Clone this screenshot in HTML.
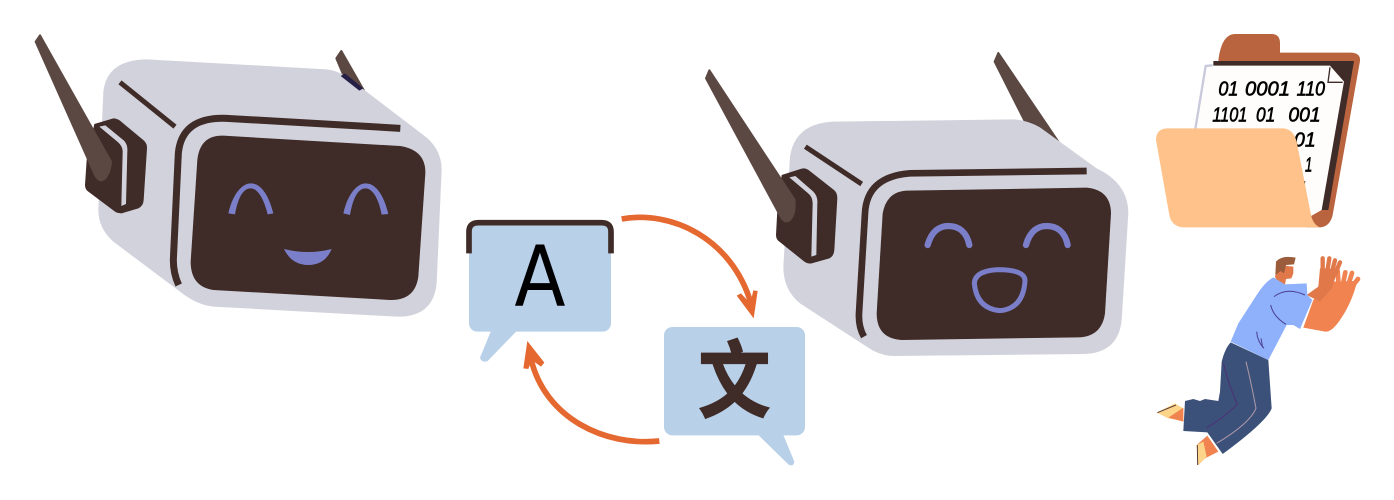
<!DOCTYPE html>
<html><head><meta charset="utf-8"><style>html,body{margin:0;padding:0;background:#fff}svg{display:block}</style></head><body>
<svg width="1394" height="500" viewBox="0 0 1394 500" xmlns="http://www.w3.org/2000/svg">
<rect width="1394" height="500" fill="#fff"/>
<!-- left robot -->
<g transform="translate(0,20) scale(.33333)">
<path d="M1024,93 L1009,115 L1030,165 L1092,212 Z" fill="#5c4842" stroke="#5c4842" stroke-width="6" stroke-linejoin="round"/>
<path d="M440,118 L980,148 Q1020,152 1060,185 L1270,345 Q1325,385 1325,450 L1310,790 Q1300,892 1190,890 L640,860 Q590,855 540,815 L340,665 Q295,625 295,570 L310,215 Q320,120 440,118 Z" fill="#d2d2dc"/>
<path d="M1022,168 L1035,160 L1090,205 L1078,212 Z" fill="#272046"/>
<path d="M360,187 L525,320" stroke="#3f2b27" stroke-width="15" fill="none"/>
<path d="M1201,325 L680,295 Q545,290 535,400 L520,720 Q520,760 536,795" stroke="#3f2b27" stroke-width="21" fill="none"/>
<path d="M670,347 L1200,378 Q1278,390 1276,460 L1255,770 Q1245,842 1170,840 L640,810 Q572,800 572,725 L592,420 Q600,345 670,347 Z" fill="#3f2b27"/>
<path d="M283,312 L340,295 Q350,295 360,302 L432,362 Q442,372 441,385 L431,540 Q430,558 415,565 L365,580 Q352,580 345,575 L265,515 Q255,508 255,495 L260,420 Z" fill="#3f2b27"/>
<path d="M298,320 L316,316 L372,362 Q384,375 382,395 L378,552 L364,558 L368,395 Q368,378 352,365 Z" fill="#d2d2dc"/>
<path d="M120,46 L107,65 L285,465 Q298,488 312,478 Q330,462 333,425 Z" fill="#5c4842" stroke="#5c4842" stroke-width="6" stroke-linejoin="round"/>
<path d="M685,580 C700,515 730,490 752,490 C780,490 805,520 820,580 L803,583 C790,530 770,505 752,505 C730,505 715,530 705,583 Z" fill="#7b7fc9"/>
<path d="M1030,580 C1045,515 1075,490 1097,490 C1125,490 1150,520 1165,582 L1145,584 C1135,530 1115,505 1097,505 C1075,505 1060,530 1050,585 Z" fill="#7b7fc9"/>
<path d="M852,687 Q925,705 995,687 Q975,735 925,735 Q875,735 852,687 Z" fill="#7b7fc9"/>
</g>
<!-- right robot -->
<g transform="translate(690,40) scale(.33333)">
<path d="M925,39 L914,65 L1005,245 L1105,305 Z" fill="#5c4842" stroke="#5c4842" stroke-width="6" stroke-linejoin="round"/>
<path d="M430,245 L970,238 Q1010,240 1050,262 L1220,385 Q1315,430 1315,520 L1295,840 Q1285,940 1180,942 L610,948 Q570,948 530,920 L330,790 Q280,750 280,680 L300,350 Q315,250 430,245 Z" fill="#d2d2dc"/>
<path d="M346,320 L515,432" stroke="#3f2b27" stroke-width="15" fill="none"/>
<path d="M1190,393 L660,400 Q530,410 525,520 L507,820 Q505,860 522,890" stroke="#3f2b27" stroke-width="20" fill="none"/>
<path d="M650,452 L1190,443 Q1262,450 1263,520 L1245,820 Q1235,890 1165,892 L635,900 Q560,895 560,820 L578,520 Q590,455 650,452 Z" fill="#3f2b27"/>
<path d="M275,405 L335,386 Q347,383 358,392 L432,450 Q442,458 442,475 L433,630 Q432,648 418,655 L365,670 Q352,672 342,664 L268,605 Q258,598 258,585 L262,510 Z" fill="#3f2b27"/>
<path d="M298,412 L316,408 L370,455 Q384,470 382,490 L379,645 L364,650 L368,490 Q368,470 352,458 Z" fill="#d2d2dc"/>
<path d="M58,91 L48,115 L272,530 Q285,552 300,540 Q318,520 313,478 Z" fill="#5c4842" stroke="#5c4842" stroke-width="6" stroke-linejoin="round"/>
<path d="M713,615 C725,572 750,558 775,558 C805,558 830,575 838,615" stroke="#7b7fc9" stroke-width="19" stroke-linecap="round" fill="none"/>
<path d="M1008,615 C1020,572 1045,558 1070,558 C1100,558 1125,575 1133,615" stroke="#7b7fc9" stroke-width="19" stroke-linecap="round" fill="none"/>
<path d="M930,689 Q1005,691 1005,722 Q1000,805 930,812 Q860,805 853,730 Q855,691 930,689 Z" stroke="#7b7fc9" stroke-width="15" fill="none"/>
</g>
<!-- bubbles -->
<g transform="translate(455,205) scale(.33333)">
<rect x="42" y="60" width="426" height="320" rx="25" fill="#b8d0e8"/>
<path d="M108,378 L75,458 Q80,475 98,468 L185,378 Z" fill="#b8d0e8"/>
<path d="M42,145 L42,80 Q42,53 70,53 L440,53 Q468,53 468,80 L468,145" stroke="#3f2b27" stroke-width="17" fill="none"/>
<text transform="translate(255,302) scale(.89,1)" font-family="'DejaVu Sans',sans-serif" font-size="252" text-anchor="middle" fill="#000">A</text>
<rect x="627" y="366" width="423" height="325" rx="25" fill="#b8d0e8"/>
<path d="M910,690 L1000,778 Q1015,788 1018,770 L985,690 Z" fill="#b8d0e8"/>
<text transform="translate(838,617) scale(.86,1)" font-family="'Noto Sans CJK SC',sans-serif" font-weight="700" font-size="250" text-anchor="middle" fill="#3f2b27" stroke="#3f2b27" stroke-width="5">文</text>
<path d="M500,42 C650,15 830,100 888,295" stroke="#e4682f" stroke-width="17" fill="none"/>
<path d="M896,340 L845,272 L858,265 L886,295 L895,256 L908,258 Z" fill="#e4682f"/>
<path d="M613,708 C450,725 270,640 228,462" stroke="#e4682f" stroke-width="17" fill="none"/>
<path d="M217,408 L205,490 L220,492 L230,465 L258,485 L268,473 Z" fill="#e4682f"/>
</g>
<!-- folder -->
<g transform="translate(1150,25) scale(.33333)">
<path d="M205,105 Q215,27 255,27 L365,27 Q390,27 390,55 L390,83 L605,83 Q632,85 630,108 L548,570 Q540,605 510,607 L470,607 L300,300 Z" fill="#b9643e"/>
<path d="M190,108 L612,108 L535,555 L510,555 L500,300 L190,122 Z" fill="#3f2b27"/>
<path d="M170,122 L540,122 L582,170 L515,555 L480,575 L135,315 Z" fill="#fefdfb"/>
<path d="M188,121 L167,123 L136,312" stroke="#c9c9dc" stroke-width="7" fill="none"/>
<path d="M540,127 L534,172 L578,172" stroke="#3f2b27" stroke-width="4" fill="none"/>
<g font-family="'Liberation Sans',sans-serif" font-style="italic" font-weight="400" font-size="62" fill="#000" stroke="#000" stroke-width="2">
<text x="205" y="212" textLength="60" lengthAdjust="spacingAndGlyphs">01</text>
<text x="285" y="212" textLength="135" lengthAdjust="spacingAndGlyphs">0001</text>
<text x="440" y="212" textLength="85" lengthAdjust="spacingAndGlyphs">110</text>
<text x="187" y="290" textLength="105" lengthAdjust="spacingAndGlyphs">1101</text>
<text x="318" y="290" textLength="58" lengthAdjust="spacingAndGlyphs">01</text>
<text x="415" y="290" textLength="97" lengthAdjust="spacingAndGlyphs">001</text>
<text x="432" y="365" textLength="65" lengthAdjust="spacingAndGlyphs">01</text>
<text x="465" y="440" textLength="22" lengthAdjust="spacingAndGlyphs">1</text>
<text x="442" y="512" textLength="30" lengthAdjust="spacingAndGlyphs">1</text>
</g>
<path d="M50,310 L400,310 Q430,312 440,350 L483,570 Q490,600 510,607 L100,607 Q65,605 58,570 L18,345 Q18,312 50,310 Z" fill="#fec28a"/>
</g>
<!-- person -->
<g transform="translate(1150,245) scale(.33333)">
<path d="M460,248 L490,165 L545,110 L622,108 Q605,175 570,225 Q545,262 525,260 Z" fill="#f08350"/>
<path d="M565,108 L563,78 M580,112 L586,82 M596,116 L606,84 M608,122 L624,102" stroke="#f08350" stroke-width="14" stroke-linecap="round" fill="none"/>
<path d="M470,150 L505,125 L510,70 L565,72 L545,130 L510,170 Z" fill="#e0784a"/>
<path d="M518,78 L518,40 M532,78 L538,40 M546,80 L555,46 M555,88 L570,52" stroke="#e0784a" stroke-width="13" stroke-linecap="round" fill="none"/>
<path d="M375,95 L385,60 L430,65 L430,85 L424,100 L408,102 L405,118 L385,118 Z" fill="#e0784a"/>
<path d="M376,90 L378,50 Q395,30 437,38 L432,58 L408,60 L402,85 L392,78 Z" fill="#9a5c3b"/>
<path d="M20,503 L75,475 L100,490 L100,528 L55,520 Z" fill="#fdd58a"/>
<path d="M100,488 L55,518 L100,530 Z" fill="#f08350"/>
<path d="M22,503 L78,480" stroke="#5a3c34" stroke-width="3"/>
<path d="M140,600 L172,572 L205,620 L165,640 L145,660 Z" fill="#f08350"/>
<path d="M140,600 L160,590 L170,635 L145,660 Z" fill="#fdd58a"/>
<path d="M142,600 L143,660" stroke="#5a3c34" stroke-width="3"/>
<path d="M242,292 L355,345 L365,490 Q350,530 218,627 L172,562 L100,558 L105,468 L130,462 L150,468 L165,462 L205,468 L210,440 L215,350 Q225,310 242,292 Z" fill="#3c5179"/>
<path d="M288,350 Q305,420 318,490 Q300,535 200,595" stroke="#b09aa8" stroke-width="3" fill="none"/>
<path d="M220,355 Q240,430 262,478 Q220,520 170,548" stroke="#4b2f78" stroke-width="3" fill="none"/>
<path d="M370,97 L405,118 L470,115 L472,150 L487,165 L450,252 L430,240 L410,240 L355,345 L242,290 L265,235 L320,150 Q345,110 370,97 Z" fill="#8fb0fb"/>
<path d="M372,155 Q410,125 465,150 M362,180 Q370,215 408,238 M320,260 Q322,290 342,310 M333,280 L338,308" stroke="#4b3f90" stroke-width="3" fill="none"/>
</g>
</svg>
</body></html>
